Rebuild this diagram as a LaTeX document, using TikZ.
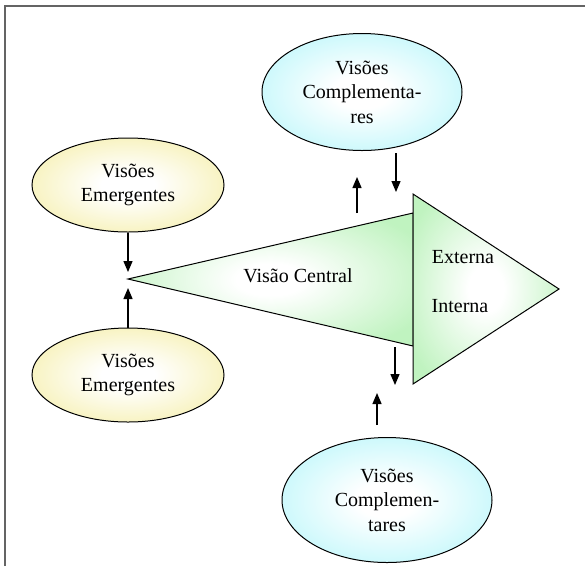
\documentclass[tikz,border=0pt]{standalone}
\usepackage{fontspec}
\setmainfont{Liberation Serif}
\usetikzlibrary{shapes.geometric,arrows.meta}

\definecolor{yellowedge}{RGB}{246,240,178}
\definecolor{cyanedge}{RGB}{192,247,251}
\definecolor{greenedge}{RGB}{192,243,192}
\definecolor{framegray}{RGB}{100,100,100}

% soft radial fills: a white core fading towards the edge colour at the rim
\pgfdeclareradialshading{softyellow}{\pgfpoint{0bp}{0bp}}{color(0bp)=(white); color(7bp)=(white); color(30bp)=(yellowedge); color(50bp)=(yellowedge)}
\pgfdeclareradialshading{softcyan}{\pgfpoint{0bp}{0bp}}{color(0bp)=(white); color(7bp)=(white); color(30bp)=(cyanedge); color(50bp)=(cyanedge)}
\pgfdeclareradialshading{softgreen}{\pgfpoint{0bp}{0bp}}{color(0bp)=(white); color(6bp)=(white); color(30bp)=(greenedge); color(50bp)=(greenedge)}

\tikzset{
  vision/.style={ellipse, draw=black, line width=1pt, inner sep=0pt,
    align=center, font=\fontsize{20}{24.5}\selectfont},
  emergent/.style={vision, shading=softyellow},
  complement/.style={vision, shading=softcyan},
  wedge/.style={draw=black, line width=1pt, shading=softgreen},
  label/.style={font=\fontsize{20}{24}\selectfont, inner sep=0pt},
  flow/.style={line width=1.3pt, -{Triangle[length=11pt,width=9pt]}},
  frameline/.style={draw=framegray, line width=2pt}
}

\begin{document}
\begin{tikzpicture}[x=1pt,y=-1pt]
  \useasboundingbox (0,0) rectangle (585,566);

  % partial frame: top and left edges
  \draw[frameline] (5,566) -- (5,6) -- (585,6);

  % central wedge and the arrowhead it points into
  \coordinate (apex) at (128,279);
  \coordinate (wtop) at (413,213);
  \coordinate (wbot) at (413,346);
  \coordinate (htop) at (413,194);
  \coordinate (hbot) at (413,384);
  \coordinate (htip) at (559,289);
  \path[wedge] (apex) -- (wtop) -- (wbot) -- cycle;
  \path[wedge] (htop) -- (htip) -- (hbot) -- cycle;

  \node[label] (central) at (298,276) {Visão Central};
  \node[label] (ext) at (463,257) {Externa};
  \node[label] (int) at (460,306) {Interna};

  % surrounding visions
  \node[emergent, minimum width=192pt, minimum height=94pt] (em1) at (128,185) {Visões\\Emergentes};
  \node[emergent, minimum width=192pt, minimum height=94pt] (em2) at (128,375) {Visões\\Emergentes};
  \node[complement, minimum width=200pt, minimum height=117pt] (co1) at (362,92) {Visões\\Complementa-\\res};
  \node[complement, minimum width=210pt, minimum height=125pt] (co2) at (387,500) {Visões\\Complemen-\\tares};

  % arrow end points
  \coordinate (a1) at (128,272);
  \coordinate (a2) at (128,288);
  \coordinate (b1s) at (357,213);
  \coordinate (b1e) at (357,177);
  \coordinate (b2s) at (396,153);
  \coordinate (b2e) at (396,192);
  \coordinate (c1s) at (395,347);
  \coordinate (c1e) at (395,385);
  \coordinate (c2s) at (377,425);
  \coordinate (c2e) at (377,393);

  \draw[flow] (em1.south) -- (a1);
  \draw[flow] (em2.north) -- (a2);
  \draw[flow] (b1s) -- (b1e);
  \draw[flow] (b2s) -- (b2e);
  \draw[flow] (c1s) -- (c1e);
  \draw[flow] (c2s) -- (c2e);
\end{tikzpicture}
\end{document}
